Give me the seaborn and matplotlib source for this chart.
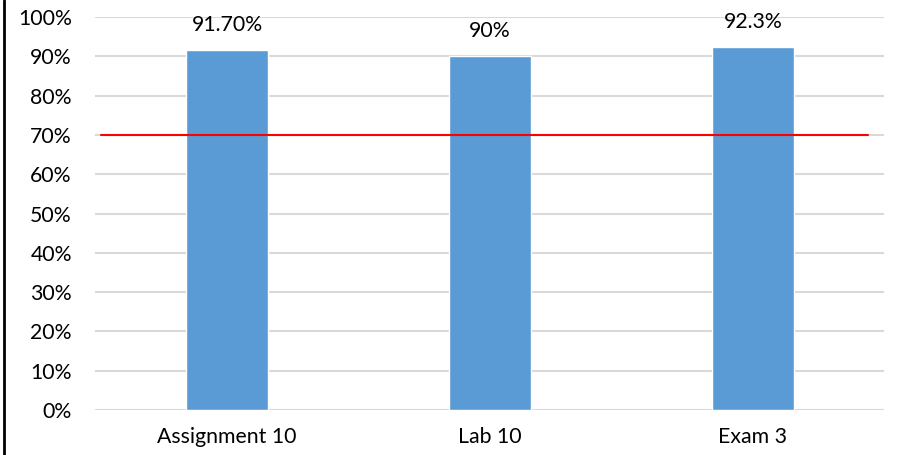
import matplotlib
matplotlib.use("Agg")
import matplotlib.pyplot as plt
from matplotlib.lines import Line2D
import seaborn as sns
import pandas as pd

categories = ["Assignment 10", "Lab 10", "Exam 3"]
scores = [91.7, 90.0, 92.3]
value_labels = ["91.70%", "90%", "92.3%"]
target = 70.0
y_ticks = [0, 10, 20, 30, 40, 50, 60, 70, 80, 90, 100]
y_tick_labels = [f"{t}%" for t in y_ticks]

sns.set_theme(style="white")
plt.rcParams["font.family"] = ["Lato", "DejaVu Sans"]

df = pd.DataFrame({"item": categories, "score": scores})

fig = plt.figure(figsize=(9.04, 4.55), dpi=100)
ax = fig.add_axes([0.1056, 0.0989, 0.8728, 0.8637])

sns.barplot(data=df, x="item", y="score", color="#5b9bd5", width=0.31,
            saturation=1, ax=ax, zorder=3)

ax.set_ylim(0, 100)
ax.set_xlim(-0.5, 2.5)
ax.set_yticks(y_ticks)
ax.set_yticklabels(y_tick_labels)
ax.yaxis.grid(True, color="#d9d9d9", linewidth=1.5, zorder=0)
ax.set_axisbelow(True)
for s in ax.spines.values():
    s.set_visible(False)
ax.tick_params(axis="both", length=0, labelsize=15.3, colors="#000000")
ax.tick_params(axis="y", pad=17)
ax.tick_params(axis="x", pad=12)
ax.set_xlabel("")
ax.set_ylabel("")

for i, (v, lab) in enumerate(zip(scores, value_labels)):
    ax.annotate(lab, xy=(i, v), xytext=(0, 18), textcoords="offset points",
                ha="center", va="center", fontsize=15.3, color="#000000")

ax.plot([-0.479, 2.437], [target, target], color="#ff0000", linewidth=1.5, zorder=4)

fig.add_artist(Line2D([0.0045, 0.0045], [0, 1], transform=fig.transFigure,
                      color="black", linewidth=2))

fig.savefig("out.png", dpi=100, facecolor="white")
